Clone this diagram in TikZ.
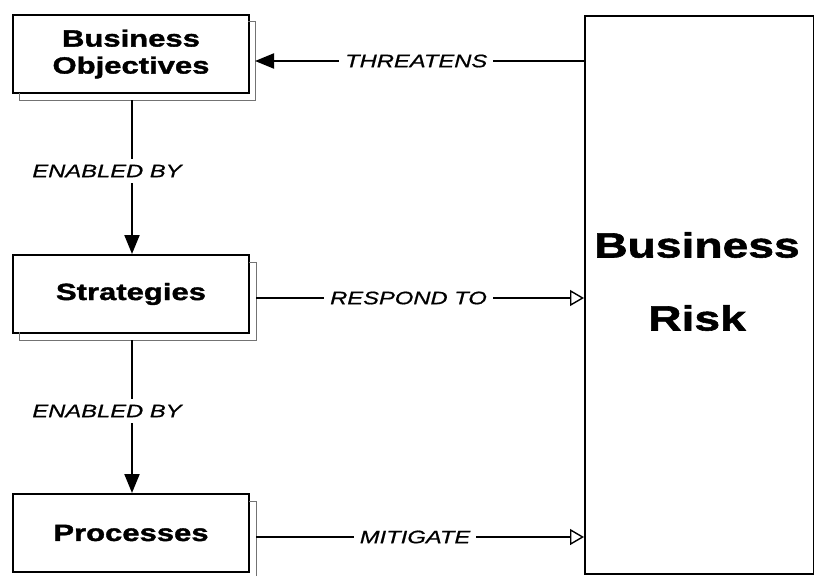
\documentclass[tikz,border=0pt]{standalone}
\usepackage{fontspec}
\setmainfont{Liberation Sans}
\newfontfamily\widefont[FakeStretch=1.32, BoldFeatures={FakeBold=1.6}, ItalicFeatures={FakeBold=0.7}]{Liberation Sans}
\usetikzlibrary{arrows.meta}
\tikzset{
  box/.style={draw, line width=2pt, minimum width=236pt, minimum height=78pt, anchor=north west, inner sep=0pt, align=center, font=\widefont\bfseries\fontsize{23.5}{26}\selectfont},
  shadowline/.style={draw=black!55, line width=0.8pt},
  conn/.style={line width=2.1pt},
  lbl/.style={fill=white, inner sep=6pt, font=\widefont\itshape\fontsize{18}{20}\selectfont},
  solidtip/.style={-{Triangle[length=19pt,width=15pt]}},
  opentip/.style={-{Triangle[open,length=14pt,width=16pt,line width=1.4pt]}}
}
\begin{document}
\begin{tikzpicture}[x=1pt,y=-1pt]
\useasboundingbox (0,0) rectangle (814,576);
% boxes
\node[box] (obj) at (12,14) {Business\\[1pt]Objectives};
\node[box] (strat) at (12,254) {Strategies};
\node[box] (proc) at (12,493) {Processes};
% shadows
\draw[shadowline] (19,93) -- (19,100) -- (255,100) -- (255,21) -- (248,21);
\draw[shadowline] (19,332) -- (19,340) -- (256,340) -- (256,262) -- (249,262);
\draw[shadowline] (256,576) -- (256,501) -- (249,501);
% big box
\node[draw, line width=2pt, anchor=north west, minimum width=229pt, minimum height=558pt, inner sep=0pt] (risk) at (584,15) {};
\node[font=\widefont\bfseries\fontsize{35}{40}\selectfont] (rt1) at (697,245) {Business};
\node[font=\widefont\bfseries\fontsize{35}{40}\selectfont] (rt2) at (697,318) {Risk};
% anchor coordinates
\coordinate (objS) at (132,100);
\coordinate (stratN) at (132,254);
\coordinate (stratS) at (132,340);
\coordinate (procN) at (132,493);
\coordinate (objE) at (255,61);
\coordinate (riskA) at (584,61);
\coordinate (stratE) at (256,298);
\coordinate (riskB) at (584,298);
\coordinate (procE) at (256,537);
\coordinate (riskC) at (584,537);
% vertical connectors
\draw[conn, solidtip] (objS) -- (stratN);
\node[lbl] (l1) at (107,171) {ENABLED BY};
\draw[conn, solidtip] (stratS) -- (procN);
\node[lbl] (l2) at (107,411) {ENABLED BY};
% horizontal connectors
\draw[conn, solidtip] (riskA) -- node[lbl, pos=0.51] (l3) {THREATENS} (objE);
\draw[conn, opentip] (stratE) -- node[lbl, pos=0.465] (l4) {RESPOND TO} (riskB);
\draw[conn, opentip] (procE) -- node[lbl, pos=0.485] (l5) {MITIGATE} (riskC);
\end{tikzpicture}
\end{document}
